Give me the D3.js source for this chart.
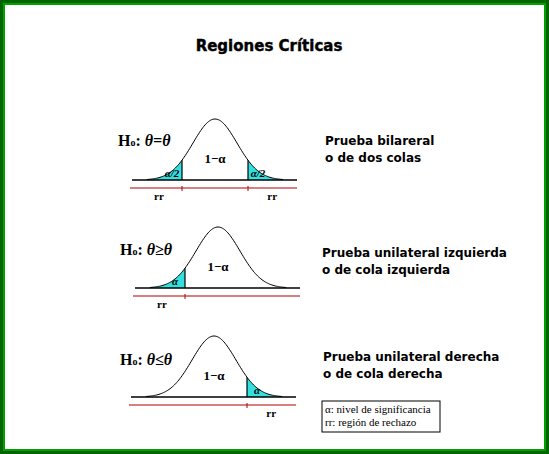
<!DOCTYPE html><html><head><meta charset="utf-8"><script src="https://cdn.jsdelivr.net/npm/d3@7"></script>
<style>body{margin:0;background:#fff}svg{display:block}</style></head><body><script>
const hypotheses=["θ=θ","θ≥θ","θ≤θ"];
const testNames=[["Prueba bilareral","o de dos colas"],["Prueba unilateral izquierda","o de cola izquierda"],["Prueba unilateral derecha","o de cola derecha"]];
const tails=[["left","right"],["left"],["right"]];
const critZ=[[-1.5,1.5],[-1.5],[1.5]];
const tailLabels=[["α/2","α/2"],["α"],["α"]];
const legendLines=["α: nivel de significancia","rr: región de rechazo"];
const panels=[{cx:215,base:180,hx:118,hy:141,tx:325,ty:140},{cx:218,base:288,hx:120,hy:250,tx:322,ty:252},{cx:214,base:397,hx:120,hy:360,tx:323,ty:356}];
const W=549,H=454;
const svg=d3.select("body").append("svg").attr("width",W).attr("height",H);
svg.append("rect").attr("width",W).attr("height",H).attr("fill","#006400");
svg.append("rect").attr("x",4).attr("y",4).attr("width",W-8).attr("height",H-8).attr("fill","#fff").attr("stroke","#00a000").attr("stroke-width",2);
svg.append("text").attr("x",269).attr("y",51).attr("text-anchor","middle").attr("font-family","DejaVu Sans").attr("font-weight","bold").attr("font-size",15).attr("stroke","#000").attr("stroke-width",0.4).text("Regiones Críticas");
const pdf=z=>Math.exp(-z*z/2);
const zs=d3.range(-3.1,3.101,0.05);
panels.forEach((p,i)=>{
  const x=d3.scaleLinear().domain([-3,3]).range([p.cx-66,p.cx+66]);
  const y=d3.scaleLinear().domain([0,1]).range([p.base,p.base-61]);
  const g=svg.append("g");
  const area=d3.area().x(z=>x(z)).y0(p.base).y1(z=>y(pdf(z)));
  tails[i].forEach((t,j)=>{
    const c=critZ[i][j];
    const dom=t==="left"?zs.filter(z=>z<=c).concat([c]):[c].concat(zs.filter(z=>z>=c));
    g.append("path").attr("d",area(dom)).attr("fill","#33e0e0");
    g.append("line").attr("x1",x(c)).attr("x2",x(c)).attr("y1",p.base).attr("y2",y(pdf(c))).attr("stroke","#000").attr("stroke-width",1.2);
    g.append("line").attr("x1",x(c)).attr("x2",x(c)).attr("y1",p.base+6).attr("y2",p.base+11).attr("stroke","#b00000");
    g.append("text").attr("x",x(c)+(t==="left"?-10:10)).attr("y",p.base-3).attr("text-anchor","middle").attr("font-family","Liberation Serif").attr("font-style","italic").attr("font-weight","bold").attr("font-size",11).text(tailLabels[i][j]);
    g.append("text").attr("x",t==="left"?x(-2.55):x(2.6)).attr("y",p.base+20).attr("text-anchor","middle").attr("font-family","Liberation Serif").attr("font-weight","bold").attr("font-size",11).text("rr");
  });
  g.append("path").attr("d",d3.line().x(z=>x(z)).y(z=>y(pdf(z)))(zs)).attr("fill","none").attr("stroke","#000");
  g.append("line").attr("x1",p.cx-83).attr("x2",p.cx+82).attr("y1",p.base).attr("y2",p.base).attr("stroke","#000").attr("stroke-width",1.3);
  g.append("line").attr("x1",p.cx-85).attr("x2",p.cx+82).attr("y1",p.base+8).attr("y2",p.base+8).attr("stroke","#b00000");
  g.append("text").attr("x",p.cx).attr("y",p.base-17).attr("text-anchor","middle").attr("font-family","Liberation Serif").attr("font-weight","bold").attr("font-size",13).text("1−α");
  const h=g.append("text").attr("x",p.hx).attr("y",p.hy+5).attr("font-family","Liberation Serif").attr("font-weight","bold").attr("font-size",16);
  h.append("tspan").text("H");h.append("tspan").attr("font-size",10).text("o");
  h.append("tspan").text(": ");h.append("tspan").attr("font-style","italic").text(hypotheses[i]);
  testNames[i].forEach((s,k)=>g.append("text").attr("x",p.tx).attr("y",p.ty+5+k*17).attr("font-family","DejaVu Sans").attr("font-weight","bold").attr("font-size",12).text(s));
});
svg.append("rect").attr("x",322).attr("y",401).attr("width",118).attr("height",31).attr("fill","none").attr("stroke","#000");
legendLines.forEach((s,k)=>svg.append("text").attr("x",325).attr("y",413+k*13).attr("font-family","Liberation Serif").attr("font-size",11).text(s));
</script></body></html>
